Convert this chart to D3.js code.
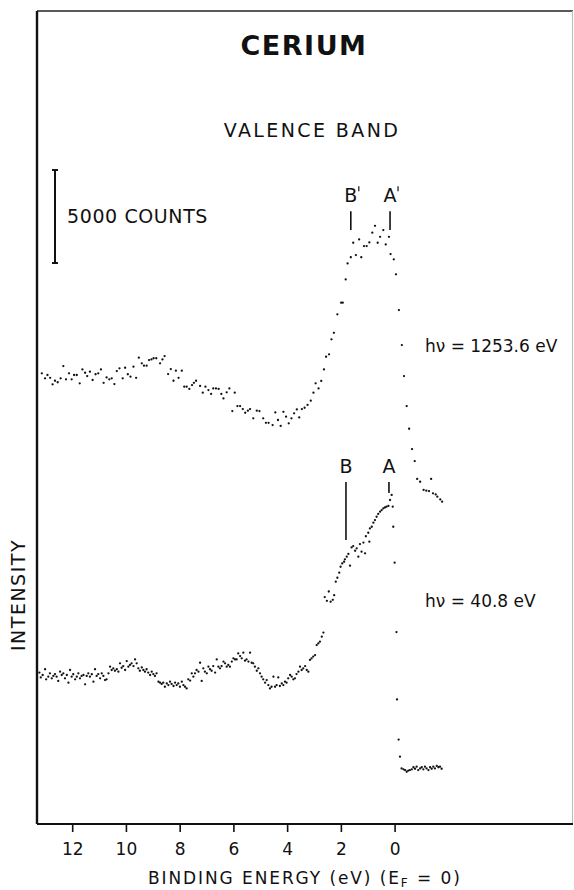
<!DOCTYPE html>
<meta charset="utf-8">
<script src="https://d3js.org/d3.v7.min.js"></script>
<style>
  body { margin: 0; background: #fff; }
  text { font-family: "DejaVu Sans", sans-serif; fill: #111; }
</style>
<div id="chart"></div>
<script>
// Binding energy (eV) and intensity (kcounts, curves offset)

// hv = 1253.6 eV (XPS)
const xpsEnergy = [13.13,13.01,12.92,12.82,12.73,12.64,12.54,12.43,12.33,12.23,
  12.12,12.02,11.93,11.83,11.72,11.62,11.52,11.44,11.34,11.24,
  11.13,11.03,10.93,10.83,10.72,10.62,10.53,10.43,10.34,10.24,
  10.12,10.03,9.93,9.83,9.72,9.62,9.52,9.41,9.33,9.23,
  9.14,9.05,8.97,8.87,8.73,8.64,8.56,8.43,8.33,8.23,
  8.14,8.04,7.92,7.83,7.74,7.64,7.54,7.47,7.39,7.24,
  7.14,7.04,6.93,6.83,6.75,6.65,6.55,6.45,6.37,6.25,
  6.15,6.04,5.95,5.85,5.75,5.65,5.56,5.46,5.38,5.26,
  5.13,5.03,4.89,4.79,4.69,4.54,4.44,4.34,4.24,4.14,
  4.04,3.94,3.84,3.74,3.64,3.55,3.45,3.35,3.24,3.12,
  3.02,2.94,2.83,2.73,2.63,2.55,2.44,2.35,2.26,
  2.13,1.99,1.93,1.82,1.75,1.63,1.54,1.44,1.32,1.24,1.14,1.04,0.94,0.83,0.73,0.63,0.54,0.42,0.33,0.21,0.15,0.03,-0.05,
  -0.16,-0.27,-0.35,-0.45,-0.54,-0.65,-0.75,-0.84,-0.95,-1.08,-1.18,-1.28,-1.36,-1.43,-1.53,-1.59,-1.70,-1.77];
const xpsCounts = [24.23,23.96,24.14,23.99,23.64,23.83,23.75,23.96,24.62,23.91,
  24.23,23.91,24.14,24.14,23.69,24.44,24.26,24.08,24.32,23.87,
  24.18,24.23,24.44,23.72,24.01,23.91,23.96,23.65,24.35,24.50,
  23.96,24.53,24.18,24.05,24.59,23.99,25.07,24.77,24.64,24.64,
  24.94,24.98,25.04,25.04,24.77,24.98,25.16,24.19,24.46,23.83,
  24.37,23.99,24.37,23.51,23.51,23.39,23.60,23.72,23.83,23.55,
  23.19,23.51,23.33,23.12,23.42,23.42,23.39,23.12,22.88,23.21,
  23.42,22.20,23.19,22.47,22.47,22.31,22.11,22.22,22.31,21.81,
  22.22,22.20,21.81,21.57,21.57,21.45,22.13,21.72,21.40,22.16,
  21.90,21.54,21.81,22.08,22.29,21.86,22.31,22.38,22.53,22.76,
  23.19,23.69,23.42,23.82,24.44,25.12,25.25,26.06,26.41,
  27.40,28.03,28.03,29.28,30.14,30.47,31.25,30.59,31.43,30.47,31.07,31.07,31.27,31.79,32.16,31.25,31.57,31.93,31.16,31.57,30.64,30.36,29.55,
  27.63,25.75,24.08,22.47,21.25,20.16,19.51,18.55,18.40,17.96,17.92,17.90,18.55,17.78,17.72,17.60,17.45,17.33];

// hv = 40.8 eV (UPS)
const upsEnergy = [13.22,13.17,13.10,13.01,12.97,12.89,12.83,12.76,12.70,12.64,
  12.58,12.52,12.45,12.39,12.33,12.27,12.20,12.14,12.08,12.02,
  11.96,11.89,11.83,11.77,11.71,11.65,11.58,11.52,11.46,11.40,
  11.34,11.27,11.21,11.15,11.09,11.03,10.96,10.90,10.84,10.78,
  10.72,10.65,10.59,10.53,10.47,10.41,10.34,10.28,10.22,10.16,
  10.10,10.03,9.97,9.91,9.85,9.79,9.72,9.66,9.60,9.54,
  9.48,9.41,9.35,9.29,9.23,9.17,9.10,9.04,8.98,8.92,
  8.86,8.79,8.73,8.67,8.61,8.55,8.48,8.42,8.36,8.30,
  8.23,8.17,8.11,8.05,7.99,7.92,7.86,7.80,7.74,7.68,
  7.61,7.55,7.49,7.43,7.37,7.30,7.24,7.18,7.12,7.06,
  6.99,6.93,6.87,6.81,6.75,6.68,6.62,6.56,6.50,6.44,
  6.37,6.31,6.25,6.19,6.13,6.06,6.00,5.94,5.88,5.82,
  5.75,5.69,5.63,5.57,5.51,5.44,5.38,5.32,5.26,5.20,
  5.13,5.07,5.01,4.95,4.89,4.82,4.76,4.70,4.64,4.58,
  4.51,4.45,4.39,4.33,4.27,4.20,4.14,4.08,4.02,3.96,
  3.89,3.83,3.77,3.71,3.65,3.58,3.52,3.46,3.40,3.33,
  3.27,3.21,3.15,3.09,3.03,2.96,2.90,2.84,2.78,2.71,2.65,
  2.60,2.52,2.45,2.38,2.30,2.25,
  2.19,2.13,2.06,2.01,1.95,1.88,1.85,1.78,1.72,1.66,1.60,1.54,1.47,1.41,1.35,1.29,1.23,1.16,1.10,1.07,
  0.98,0.94,0.92,0.85,0.79,0.73,0.67,0.61,0.54,0.48,0.42,0.36,0.30,0.23,0.17,0.11,0.07,0.05,0.00,
  -0.07,-0.09,-0.15,-0.20,
  -0.26,-0.33,-0.39,-0.45,-0.51,-0.57,-0.64,-0.70,-0.76,-0.82,-0.88,-0.95,-1.01,-1.07,-1.13,-1.19,-1.26,-1.32,-1.38,-1.44,-1.50,-1.57,-1.63,-1.69,-1.75];
const upsCounts = [8.14,7.88,8.01,8.32,7.78,7.92,8.10,7.83,7.96,8.06,
  7.92,7.69,8.19,8.01,8.10,7.83,8.01,7.60,8.28,7.92,
  8.05,7.78,7.92,8.10,7.83,7.96,8.01,7.51,7.96,8.10,
  7.92,8.05,7.65,8.32,7.96,8.06,7.83,8.10,7.96,7.74,
  7.78,8.10,8.46,8.28,8.37,8.24,8.32,8.19,8.64,8.40,
  8.49,8.28,8.76,8.46,8.55,8.64,8.49,8.85,8.64,8.37,
  8.24,8.42,8.28,8.19,8.32,8.14,8.01,8.19,8.06,7.96,
  8.10,7.65,7.60,7.53,7.60,7.38,7.56,7.47,7.65,7.53,
  7.42,7.60,7.47,7.56,7.38,7.65,7.47,7.38,7.29,7.78,
  7.71,8.10,7.92,8.10,8.28,8.19,8.67,7.69,8.37,8.19,
  8.10,8.46,8.32,8.24,8.49,8.14,8.85,8.46,8.37,8.49,
  8.73,8.64,8.46,8.55,8.46,8.73,8.91,8.85,8.85,9.17,
  9.03,8.91,9.21,8.78,8.85,8.73,9.21,8.67,8.64,8.46,
  8.24,8.37,8.10,7.92,7.78,7.60,7.74,7.47,7.29,7.38,
  7.92,7.38,7.47,7.88,7.42,7.56,7.47,7.65,7.60,7.83,
  8.01,7.92,7.78,7.83,8.06,8.19,8.46,8.28,8.37,8.49,
  8.28,8.19,8.82,8.91,9.00,9.08,9.62,9.71,9.80,10.07,10.29,
  12.20,12.00,12.50,11.95,12.05,12.30,
  13.03,13.24,13.51,13.83,14.01,14.10,14.23,14.37,14.52,13.89,14.87,14.94,14.69,14.82,14.37,15.05,14.64,15.13,14.55,15.47,
  15.66,15.18,15.89,15.98,16.20,16.34,16.52,16.67,16.79,16.88,16.97,17.02,17.06,17.10,17.42,17.69,17.06,15.98,14.05,
  10.32,6.70,4.54,3.62,
  2.99,2.94,2.90,2.81,2.87,2.90,2.94,3.05,2.97,3.08,2.90,2.99,3.05,2.94,3.08,2.99,2.90,3.05,2.97,3.08,2.99,3.12,3.05,3.08,2.97];

const tickValues = [12, 10, 8, 6, 4, 2, 0];

// peak markers: energy, label, line top / bottom (kcounts)
const peaks = [
  { label: "B", prime: true,  e: 1.63, top: 32.95, bottom: 31.93 },
  { label: "A", prime: true,  e: 0.17, top: 32.95, bottom: 31.93 },
  { label: "B", prime: false, e: 1.81, top: 18.39, bottom: 15.27 },
  { label: "A", prime: false, e: 0.21, top: 18.39, bottom: 17.79 }
];

const width = 574, height = 890;
const frame = { left: 37, right: 573, top: 11, bottom: 824 };

const svg = d3.select("#chart")
  .append("svg")
    .attr("width", width)
    .attr("height", height);

const x = d3.scaleLinear().domain([13.31, -6.64]).range([frame.left, frame.right]);
const y = d3.scaleLinear().domain([0, 43.71]).range([frame.bottom, frame.top]);

// frame
svg.append("line").attr("x1", frame.left).attr("x2", frame.right)
  .attr("y1", frame.top).attr("y2", frame.top)
  .attr("stroke", "#222").attr("stroke-width", 1.6);
svg.append("line").attr("x1", frame.left).attr("x2", frame.left)
  .attr("y1", frame.top).attr("y2", frame.bottom)
  .attr("stroke", "#111").attr("stroke-width", 2.4);
svg.append("line").attr("x1", frame.right - 0.5).attr("x2", frame.right - 0.5)
  .attr("y1", frame.top).attr("y2", frame.bottom)
  .attr("stroke", "#bbb").attr("stroke-width", 1);

// x axis
const xAxis = svg.append("g")
  .attr("transform", `translate(0,${frame.bottom})`)
  .call(d3.axisBottom(x).tickValues(tickValues).tickFormat(d3.format("d")).tickSize(8).tickPadding(11));
xAxis.select(".domain")
  .attr("d", `M${frame.left},0H${frame.right}`)
  .attr("stroke", "#111").attr("stroke-width", 2.2);
xAxis.selectAll(".tick line").attr("stroke", "#111").attr("stroke-width", 1.6);
xAxis.selectAll(".tick text")
  .style("font-family", "'DejaVu Sans', sans-serif")
  .style("font-size", "17px")
  .attr("fill", "#111");

// axis titles
const xTitle = svg.append("text")
  .attr("x", 148).attr("y", 884)
  .style("font-size", "17px").style("letter-spacing", "1.9px");
xTitle.append("tspan").text("BINDING  ENERGY (eV) (E");
xTitle.append("tspan").text("F").attr("dy", 3).style("font-size", "12px");
xTitle.append("tspan").text(" = 0)").attr("dy", -3);

svg.append("text")
  .attr("transform", "translate(25,595) rotate(-90)")
  .attr("text-anchor", "middle")
  .style("font-size", "19px").style("letter-spacing", "1.5px")
  .text("INTENSITY");

// titles
svg.append("text")
  .attr("x", 304).attr("y", 55)
  .attr("text-anchor", "middle")
  .style("font-size", "27px").style("font-weight", "bold").style("letter-spacing", "1.5px")
  .text("CERIUM");

svg.append("text")
  .attr("x", 312).attr("y", 137)
  .attr("text-anchor", "middle")
  .style("font-size", "19px").style("letter-spacing", "2.4px")
  .text("VALENCE  BAND");

// 5000 counts scale bar
const barE = 12.64, barLow = 30.16, barHigh = 35.16;
svg.append("line")
  .attr("x1", x(barE)).attr("x2", x(barE))
  .attr("y1", y(barLow)).attr("y2", y(barHigh))
  .attr("stroke", "#111").attr("stroke-width", 2);
[barLow, barHigh].forEach(v => {
  svg.append("line")
    .attr("x1", x(barE) - 3).attr("x2", x(barE) + 3)
    .attr("y1", y(v)).attr("y2", y(v))
    .attr("stroke", "#111").attr("stroke-width", 2);
});
svg.append("text")
  .attr("x", 67).attr("y", 223)
  .style("font-size", "19px").style("letter-spacing", "0.6px")
  .text("5000 COUNTS");

// photon energy labels
svg.append("text").attr("x", 425).attr("y", 352)
  .style("font-size", "17px").text("hν = 1253.6 eV");
svg.append("text").attr("x", 425).attr("y", 607)
  .style("font-size", "17px").text("hν = 40.8 eV");

// peak markers
peaks.forEach(p => {
  svg.append("line")
    .attr("x1", x(p.e)).attr("x2", x(p.e))
    .attr("y1", y(p.top)).attr("y2", y(p.bottom))
    .attr("stroke", "#111").attr("stroke-width", 1.6);
  svg.append("text")
    .attr("x", x(p.e)).attr("y", y(p.top) - 9)
    .attr("text-anchor", "middle")
    .style("font-size", "19px")
    .text(p.label);
  if (p.prime) {
    svg.append("line")
      .attr("x1", x(p.e) + 8).attr("x2", x(p.e) + 8)
      .attr("y1", y(p.top) - 25).attr("y2", y(p.top) - 20)
      .attr("stroke", "#111").attr("stroke-width", 1.2);
  }
});

// spectra
const xps = d3.zip(xpsEnergy, xpsCounts);
const ups = d3.zip(upsEnergy, upsCounts);

svg.append("g")
  .selectAll("circle")
  .data(xps.concat(ups))
  .join("circle")
    .attr("cx", d => x(d[0]))
    .attr("cy", d => y(d[1]))
    .attr("r", 1.15)
    .attr("fill", "#111");
</script>
